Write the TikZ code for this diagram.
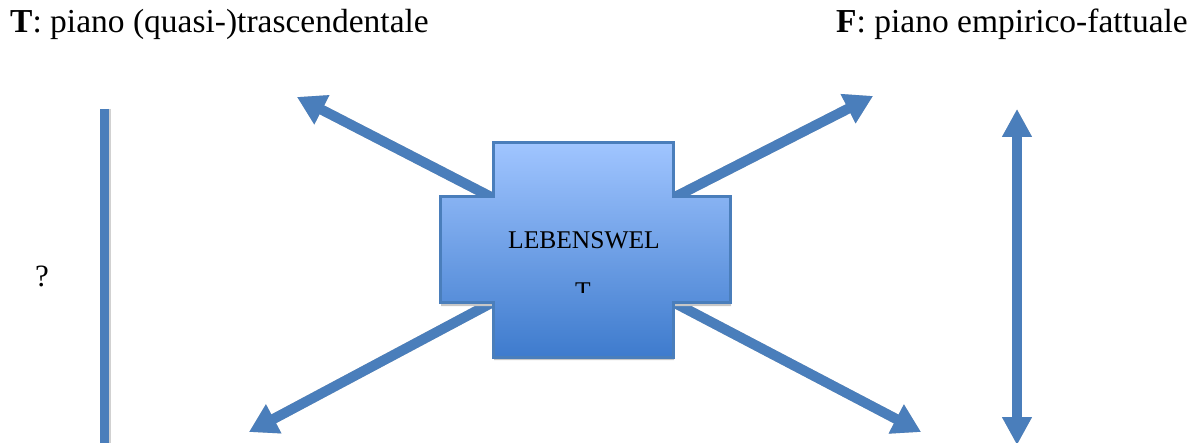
\documentclass[tikz,border=0pt]{standalone}
\usepackage{fontspec}
\setmainfont{Liberation Serif}
\usetikzlibrary{arrows.meta}
\definecolor{arrblue}{RGB}{74,126,187}
\definecolor{crosstop}{RGB}{160,197,255}
\definecolor{crossbot}{RGB}{62,123,205}
\tikzset{
  arr/.style={line width=10pt, draw=arrblue, -{Triangle[length=28pt,width=31pt]}},
  darr/.style={line width=10pt, draw=arrblue, {Triangle[length=28pt,width=28pt]}-{Triangle[length=28pt,width=28pt]}},
  arrsh/.style={line width=10pt, draw=black!22, -{Triangle[length=28pt,width=31pt]}, shift={(2,3)}},
  darrsh/.style={line width=10pt, draw=black!22, {Triangle[length=28pt,width=28pt]}-{Triangle[length=28pt,width=28pt]}, shift={(2,2)}},
  head/.style={font=\fontsize{33.5}{40}\selectfont, anchor=base west, inner sep=0pt},
  boxtxt/.style={font=\fontsize{25.5}{30}\selectfont, anchor=base, inner sep=0pt}
}
\begin{document}
\begin{tikzpicture}[x=1pt,y=-1pt]
\useasboundingbox (0,0) rectangle (1190,443);
% headings
\node[head] (hT) at (10,33) {\textbf{T}: piano (quasi-)trascendentale};
\node[head] (hF) at (836,33) {\textbf{F}: piano empirico-fattuale};
\node[font=\fontsize{31}{36}\selectfont, anchor=base, inner sep=0pt] (q) at (42,287) {?};
% coordinates
\coordinate (ul) at (297,97);
\coordinate (ur) at (873,96);
\coordinate (ll) at (249,432);
\coordinate (lr) at (921,432);
\coordinate (cul) at (495,199);
\coordinate (cur) at (671,199);
\coordinate (cll) at (495,301);
\coordinate (clr) at (671,301);
\coordinate (vt) at (1017,109);
\coordinate (vb) at (1017,445);
\coordinate (lt) at (104.5,109);
\coordinate (lb) at (104.5,445);
% left line
\draw[line width=9pt, draw=black!18] ([xshift=1.5pt]lt) -- ([xshift=1.5pt]lb);
\draw[line width=9pt, draw=arrblue] (lt) -- (lb);
% shadows of arrows
\draw[arrsh] (cul) -- (ul);
\draw[arrsh] (cur) -- (ur);
\draw[arrsh] (cll) -- (ll);
\draw[arrsh] (clr) -- (lr);
\draw[darrsh] (vt) -- (vb);
% arrows
\draw[arr] (cul) -- (ul);
\draw[arr] (cur) -- (ur);
\draw[arr] (cll) -- (ll);
\draw[arr] (clr) -- (lr);
\draw[darr] (vt) -- (vb);
% cross shadow
\fill[black!22, shift={(1,3)}] (493,143) -- (673,143) -- (673,197) -- (730,197) -- (730,303) -- (673,303) -- (673,357) -- (493,357) -- (493,303) -- (440,303) -- (440,197) -- (493,197) -- cycle;
% cross
\path[draw=arrblue, line width=3pt, top color=crosstop, bottom color=crossbot, line join=miter]
  (493,143) -- (673,143) -- (673,197) -- (730,197) -- (730,303) -- (673,303) -- (673,357) -- (493,357) -- (493,303) -- (440,303) -- (440,197) -- (493,197) -- cycle;
\node[boxtxt] (lw) at (584,249) {LEBENSWEL};
\begin{scope}
\clip (500,270) rectangle (670,293);
\node[boxtxt] (lwT) at (583,300) {T};
\end{scope}
\end{tikzpicture}
\end{document}
